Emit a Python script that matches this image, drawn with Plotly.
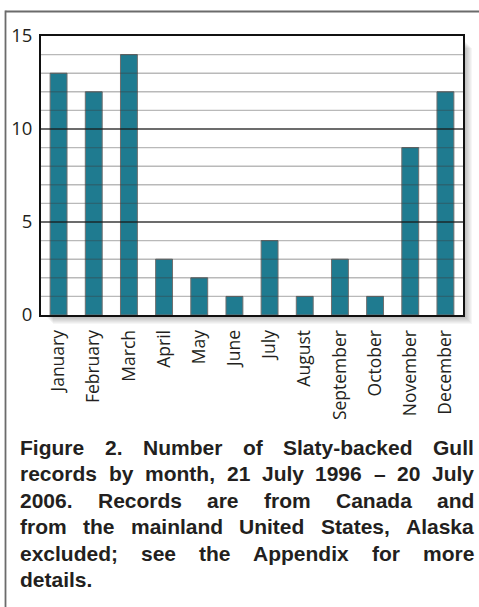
import plotly.graph_objects as go

# ---- data ----
months = ["January", "February", "March", "April", "May", "June", "July",
          "August", "September", "October", "November", "December"]
records = [13, 12, 14, 3, 2, 1, 4, 1, 3, 1, 9, 12]
y_ticks = [0, 5, 10, 15]
caption_lines = [
    "Figure 2. Number of Slaty-backed Gull",
    "records by month, 21 July 1996 \u2013 20 July",
    "2006. Records are from Canada and",
    "from the mainland United States, Alaska",
    "excluded; see the Appendix for more",
    "details.",
]

# ---- layout geometry (pixels) ----
W, H = 479, 607
L, R, T, B = 41, 463, 36, 315
PW, PH = R - L, B - T


def px(x):
    return (x - L) / PW


def py(y):
    return (B - y) / PH


# Arial/Liberation Sans Bold advance widths (per 1000 em)
AW = {' ': 278, 'a': 556, 'b': 611, 'c': 556, 'd': 611, 'e': 556, 'f': 333, 'g': 611,
      'h': 611, 'i': 278, 'j': 278, 'k': 556, 'l': 278, 'm': 889, 'n': 611, 'o': 611,
      'p': 611, 'q': 611, 'r': 389, 's': 556, 't': 333, 'u': 611, 'v': 556, 'w': 778,
      'x': 556, 'y': 556, 'z': 500, 'A': 722, 'B': 722, 'C': 722, 'D': 722, 'E': 667,
      'F': 611, 'G': 778, 'H': 722, 'I': 278, 'J': 556, 'K': 722, 'L': 611, 'M': 833,
      'N': 722, 'O': 778, 'P': 667, 'Q': 778, 'R': 722, 'S': 667, 'T': 611, 'U': 722,
      'V': 667, 'W': 944, 'X': 667, 'Y': 667, 'Z': 611, '.': 278, ',': 278, ';': 333,
      ':': 333, '-': 333, '\u2013': 556}
for d in "0123456789":
    AW[d] = 556

CAP_FS = 21


def wwidth(s):
    return sum(AW.get(c, 556) for c in s) * CAP_FS / 1000.0


fig = go.Figure()
fig.add_trace(go.Bar(
    x=months, y=records, width=0.48,
    marker=dict(color="#1f7b90", line=dict(color="#6e6e6e", width=1)),
    hoverinfo="skip",
))

shapes = []
# drop shadow of plot frame
for i in range(1, 10):
    shapes.append(dict(type="rect", xref="paper", yref="paper", layer="below",
                       x0=px(R), x1=px(R + i), y0=py(B + i), y1=py(T + 3 + i),
                       fillcolor="rgba(0,0,0,0.035)", line=dict(width=0)))
    shapes.append(dict(type="rect", xref="paper", yref="paper", layer="below",
                       x0=px(L + 3 + i), x1=px(R), y0=py(B), y1=py(B + i),
                       fillcolor="rgba(0,0,0,0.035)", line=dict(width=0)))
# gridlines above bars
for v in range(1, 15):
    if v % 5 == 0:
        ln = dict(color="rgba(25,25,25,0.85)", width=1.6)
    else:
        ln = dict(color="rgba(60,60,60,0.36)", width=1.4)
    shapes.append(dict(type="line", xref="paper", yref="y", layer="above",
                       x0=0, x1=1, y0=v, y1=v, line=ln))
# outer frame (left and top edges visible)
frame = dict(color="#6b6b6b", width=1.8)
shapes.append(dict(type="line", xref="paper", yref="paper", layer="below",
                   x0=px(5.5), x1=px(W + 5), y0=py(11.5), y1=py(11.5), line=frame))
shapes.append(dict(type="line", xref="paper", yref="paper", layer="below",
                   x0=px(5.5), x1=px(5.5), y0=py(10.6), y1=py(H + 5), line=frame))

annotations = []
base_y = [454, 480.5, 507, 533.5, 560, 586.5]
xl, xr = 19, 473
for li, line in enumerate(caption_lines):
    words = line.split(" ")
    widths = [wwidth(w) for w in words]
    last = (li == len(caption_lines) - 1)
    if len(words) > 1 and not last:
        gap = (xr - xl - sum(widths)) / (len(words) - 1)
    else:
        gap = wwidth(" ")
    x = xl
    for w, wd in zip(words, widths):
        annotations.append(dict(
            text=w, xref="paper", yref="paper", x=px(x), y=py(base_y[li] - 7),
            xanchor="left", yanchor="middle", showarrow=False, borderpad=0,
            font=dict(family="Liberation Sans, Arial, sans-serif", size=CAP_FS,
                      color="#231f20", weight="bold")))
        x += wd + gap

fig.update_layout(
    width=W, height=H,
    margin=dict(l=L, r=W - R, t=T, b=H - B, pad=0, autoexpand=False),
    paper_bgcolor="white", plot_bgcolor="white",
    showlegend=False, bargap=0.5,
    shapes=shapes, annotations=annotations,
    xaxis=dict(type="category", range=[-0.5, 11.5], showgrid=False,
               tickangle=-90, ticks="", ticklabelstandoff=6, automargin=False,
               tickfont=dict(family="Open Sans, sans-serif", size=17.5, color="#231f20"),
               showline=True, mirror=True, linecolor="#111111", linewidth=2,
               layer="above traces", zeroline=False, fixedrange=True),
    yaxis=dict(range=[0, 15], tickvals=y_ticks, showgrid=False, ticks="",
               ticklabelstandoff=3, automargin=False,
               tickfont=dict(family="Open Sans, sans-serif", size=18.5, color="#231f20"),
               showline=True, mirror=True, linecolor="#111111", linewidth=2,
               layer="above traces", zeroline=False, fixedrange=True),
)

fig.write_html("out.html", config={"displayModeBar": False},
               post_script="document.body.style.margin='0';")
